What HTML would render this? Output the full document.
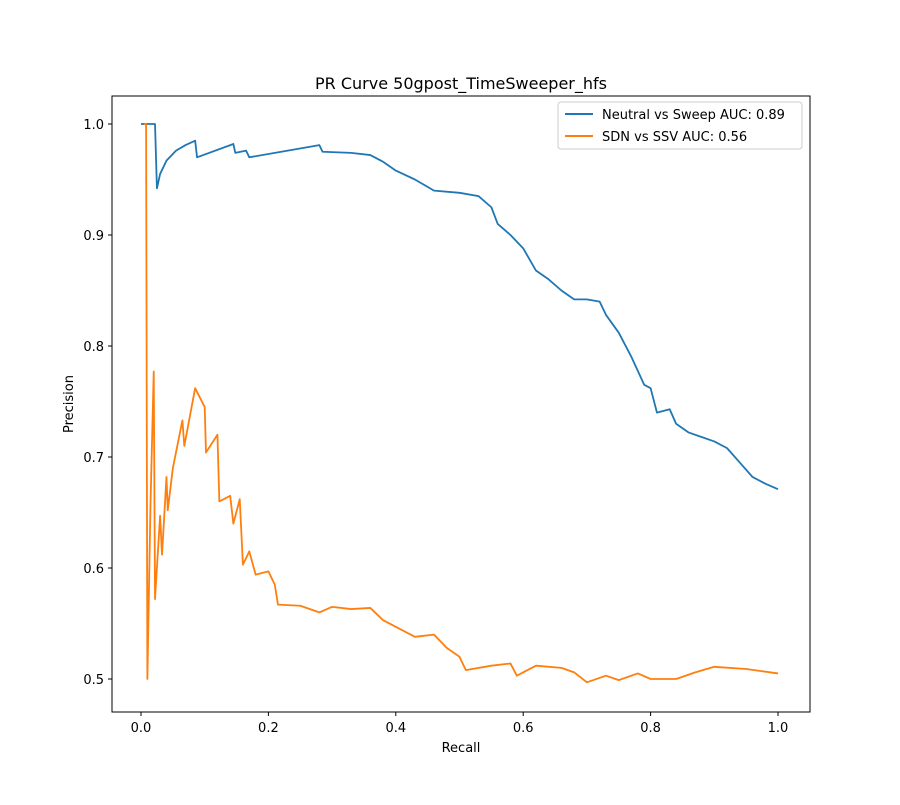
<!DOCTYPE html>
<html><head><meta charset="utf-8"><style>
body{margin:0;background:#fff;font-family:"Liberation Sans","DejaVu Sans",sans-serif}
</style></head><body>
<svg id="chart" width="900" height="800" xmlns="http://www.w3.org/2000/svg" font-family="DejaVu Sans, Liberation Sans, sans-serif">
<rect width="900" height="800" fill="#fff"/>
<text x="461" y="89" font-size="16" text-anchor="middle">PR Curve 50gpost_TimeSweeper_hfs</text>
<g id="axes"></g>
<g id="series"></g>
<rect x="112" y="96" width="698" height="616" fill="none" stroke="#000" stroke-width="1"/>
<text x="461" y="752" font-size="13" text-anchor="middle">Recall</text>
<text x="73" y="404" font-size="13" text-anchor="middle" transform="rotate(-90 73 404)">Precision</text>
<g>
<rect x="558" y="102" width="244" height="47" rx="3" fill="#fff" stroke="#ccc"/>
<line x1="565" y1="114" x2="593" y2="114" stroke="#1f77b4" stroke-width="2"/>
<text x="602" y="119" font-size="13">Neutral vs Sweep AUC: 0.89</text>
<line x1="565" y1="136" x2="593" y2="136" stroke="#ff7f0e" stroke-width="2"/>
<text x="602" y="141" font-size="13">SDN vs SSV AUC: 0.56</text>
</g>
</svg>
<script>
const xTicks=[0,0.2,0.4,0.6,0.8,1.0];
const yTicks=[0.5,0.6,0.7,0.8,0.9,1.0];
const blueRecall=[0,0.02,0.022,0.025,0.03,0.04,0.055,0.07,0.085,0.088,0.145,0.148,0.165,0.17,0.28,0.285,0.33,0.36,0.38,0.4,0.43,0.46,0.5,0.53,0.55,0.56,0.58,0.6,0.62,0.64,0.66,0.68,0.7,0.72,0.73,0.75,0.77,0.79,0.8,0.81,0.83,0.84,0.86,0.88,0.9,0.92,0.94,0.96,0.98,1.0];
const bluePrecision=[1.0,1.0,1.0,0.942,0.955,0.967,0.976,0.981,0.985,0.970,0.982,0.974,0.976,0.970,0.981,0.975,0.974,0.972,0.966,0.958,0.950,0.940,0.938,0.935,0.925,0.910,0.900,0.888,0.868,0.860,0.850,0.842,0.842,0.840,0.828,0.812,0.790,0.765,0.762,0.740,0.743,0.730,0.722,0.718,0.714,0.708,0.695,0.682,0.676,0.671];
const orangeRecall=[0.005,0.008,0.01,0.015,0.02,0.022,0.03,0.033,0.04,0.042,0.05,0.065,0.068,0.085,0.1,0.102,0.12,0.123,0.14,0.145,0.155,0.16,0.17,0.18,0.2,0.21,0.215,0.25,0.28,0.3,0.33,0.36,0.38,0.4,0.43,0.46,0.48,0.5,0.51,0.55,0.58,0.59,0.62,0.66,0.68,0.7,0.73,0.75,0.78,0.8,0.84,0.87,0.9,0.95,1.0];
const orangePrecision=[1.0,1.0,0.5,0.66,0.777,0.572,0.647,0.612,0.682,0.652,0.69,0.733,0.71,0.762,0.745,0.704,0.72,0.66,0.665,0.64,0.662,0.603,0.615,0.594,0.597,0.585,0.567,0.566,0.56,0.565,0.563,0.564,0.553,0.547,0.538,0.54,0.528,0.52,0.508,0.512,0.514,0.503,0.512,0.51,0.506,0.497,0.503,0.499,0.505,0.5,0.5,0.506,0.511,0.509,0.505];
const NS="http://www.w3.org/2000/svg";
function xs(v){return 141+v*637;}
function ys(v){return 124+(1-v)*1110;}
const axes=document.getElementById('axes');
xTicks.forEach(t=>{
  const l=document.createElementNS(NS,'line');
  
  
  l.setAttribute('x1',xs(t));l.setAttribute('x2',xs(t));l.setAttribute('y1',712);l.setAttribute('y2',716);l.setAttribute('stroke','#000');
  axes.appendChild(l);
  const tx=document.createElementNS(NS,'text');
  
  
  tx.setAttribute('x',xs(t));tx.setAttribute('y',732);tx.setAttribute('font-size','13');tx.setAttribute('text-anchor','middle');
  tx.textContent=t.toFixed(1);axes.appendChild(tx);
});
yTicks.forEach(t=>{
  const l=document.createElementNS(NS,'line');
  
  
  l.setAttribute('x1',108);l.setAttribute('x2',112);l.setAttribute('y1',ys(t));l.setAttribute('y2',ys(t));l.setAttribute('stroke','#000');
  axes.appendChild(l);
  const tx=document.createElementNS(NS,'text');
  
  
  tx.setAttribute('x',104);tx.setAttribute('y',ys(t)+5);tx.setAttribute('font-size','13');tx.setAttribute('text-anchor','end');
  tx.textContent=t.toFixed(1);axes.appendChild(tx);
});
const series=document.getElementById('series');
function line(rx,py,color,name){
  const p=document.createElementNS(NS,'polyline');
  
  
  p.setAttribute('points',rx.map((r,i)=>xs(r)+','+ys(py[i])).join(' '));
  p.setAttribute('fill','none');p.setAttribute('stroke',color);p.setAttribute('stroke-width','1.8');p.setAttribute('stroke-linejoin','round');
  series.appendChild(p);
}
line(blueRecall,bluePrecision,'#1f77b4','neutral-vs-sweep-line');
line(orangeRecall,orangePrecision,'#ff7f0e','sdn-vs-ssv-line');
</script>
</body></html>
